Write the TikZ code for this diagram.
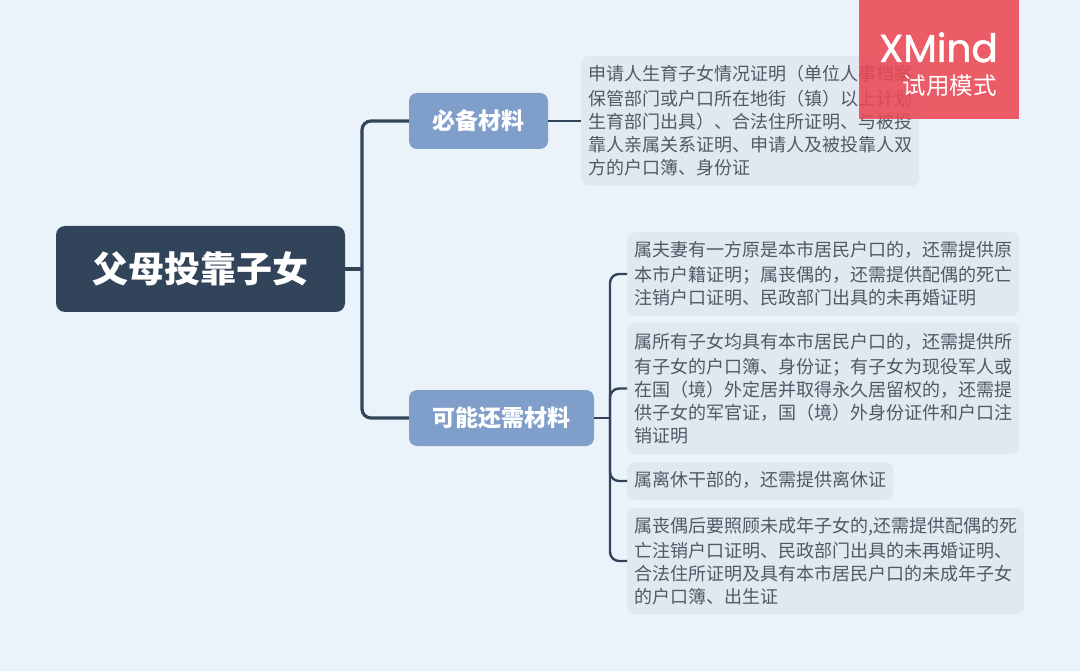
\documentclass[tikz,border=0pt]{standalone}
\usepackage{fontspec}
\setmainfont{Noto Sans CJK SC}
\newfontfamily\latinfont[FakeBold=1.2]{Poppins}
\definecolor{bgblue}{HTML}{EBF3FA}
\definecolor{rootblue}{HTML}{324459}
\definecolor{childblue}{HTML}{7F9EC9}
\definecolor{detailgray}{HTML}{E2E8F0}
\definecolor{detailtext}{HTML}{4F5A66}
\definecolor{markred}{HTML}{EB4853}
\tikzset{
    rootbox/.style={fill=rootblue,text=white,rounded corners=9pt,font=\fontsize{36}{36}\selectfont\bfseries,minimum width=289pt,minimum height=86pt,inner sep=0pt},
    childbox/.style={fill=childblue,text=white,rounded corners=8pt,font=\fontsize{23}{23}\selectfont\bfseries,minimum height=56pt,inner sep=0pt},
    detailbox/.style={fill=detailgray,text=detailtext,rounded corners=8pt,align=left,font=\fontsize{18}{23}\selectfont,anchor=west,inner xsep=7.5pt,inner ysep=0pt,execute at begin node=\vspace*{2pt}},
    link/.style={draw=rootblue,line width=3.2pt,rounded corners=9pt},
    sublink/.style={draw=rootblue,line width=2.4pt,rounded corners=9pt}
}
\begin{document}
\begin{tikzpicture}[x=1pt,y=-1pt]
    % background
    \fill[bgblue] (0,0) rectangle (1080,671);
    \useasboundingbox (0,0) rectangle (1080,671);

    \coordinate (rootjoint) at (362,269);
    \coordinate (subjoint) at (610,418);

    % topics
    \node[rootbox] (root) at (200.5,269) {父母投靠子女};
    \node[childbox,minimum width=139pt] (need) at (478.5,121) {必备材料};
    \node[childbox,minimum width=185pt] (maybe) at (501.5,418) {可能还需材料};

    % details
    \node[detailbox,text width=323pt,minimum height=130pt] (needtext) at (581,121) {申请人生育子女情况证明（单位人事档案\\保管部门或户口所在地街（镇）以上计划\\生育部门出具）、合法住所证明、与被投\\靠人亲属关系证明、申请人及被投靠人双\\方的户口簿、身份证};
    \node[detailbox,text width=377pt,minimum height=84pt] (spouse) at (627,274) {属夫妻有一方原是本市居民户口的，还需提供原\\本市户籍证明；属丧偶的，还需提供配偶的死亡\\注销户口证明、民政部门出具的未再婚证明};
    \node[detailbox,text width=377pt,minimum height=131pt] (children) at (627,388.5) {属所有子女均具有本市居民户口的，还需提供所\\有子女的户口簿、身份证；有子女为现役军人或\\在国（境）外定居并取得永久居留权的，还需提\\供子女的军官证，国（境）外身份证件和户口注\\销证明};
    \node[detailbox,text width=251pt,minimum height=38pt] (retired) at (627,481) {属离休干部的，还需提供离休证};
    \node[detailbox,text width=382pt,minimum height=106pt] (minor) at (627,561) {属丧偶后要照顾未成年子女的,还需提供配偶的死\\亡注销户口证明、民政部门出具的未再婚证明、\\合法住所证明及具有本市居民户口的未成年子女\\的户口簿、出生证};

    % lines
    \draw[link] (root.east) -- (rootjoint);
    \draw[link] (rootjoint) |- (need.west);
    \draw[link] (rootjoint) |- (maybe.west);
    \draw[sublink] (need.east) -- (needtext.west);
    \draw[sublink] (maybe.east) -- (subjoint);
    \draw[sublink] (subjoint) |- (spouse.west);
    \draw[sublink] (subjoint) |- (children.west);
    \draw[sublink] (subjoint) |- (retired.west);
    \draw[sublink] (subjoint) |- (minor.west);

    % trial mark
    \fill[markred,fill opacity=0.88] (859,0) rectangle (1019,119);
    \node[text=white,font=\fontsize{39}{39}\selectfont\latinfont,anchor=base east,inner sep=0pt] (markname) at (998,62) {XMind};
    \node[text=white,font=\fontsize{23.5}{23.5}\selectfont,anchor=base east,inner sep=0pt] (marktext) at (997,95) {试用模式};
\end{tikzpicture}
\end{document}
